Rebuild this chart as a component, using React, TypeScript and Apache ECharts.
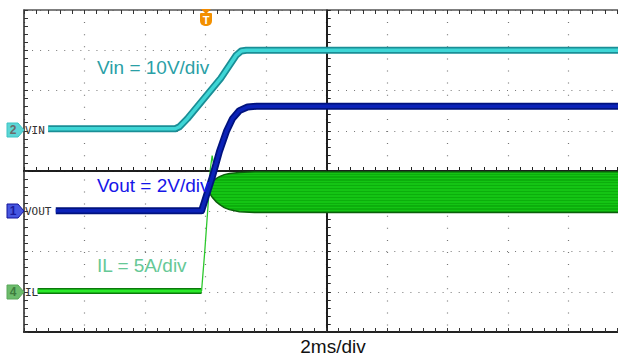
import React, { useEffect, useRef } from "react";
import * as echarts from "echarts";

// Time axis in ms (2 ms/div, trigger at -4 ms); vertical values in screen divisions (centre = 0)
const xTicks = { min: -10, max: 10, interval: 2 };
const yTicks = { min: -4, max: 4, interval: 1 };

// Channel 2: VIN (10 V/div)
const vinT = [-9.2, -5.0, -4.86, -4.6, -3.5, -2.98, -2.82, -2.65, 10];
const vinV = [1.05, 1.05, 1.1, 1.3, 2.3, 2.88, 2.98, 3.0, 3.0];

// Channel 1: VOUT (2 V/div)
const voutT = [-8.95, -4.13, -3.97, -3.77, -3.54, -3.31, -3.11, -2.88, -2.61, -2.31, 10];
const voutV = [-0.99, -0.99, -0.61, -0.14, 0.48, 0.98, 1.3, 1.5, 1.59, 1.61, 1.61];

// Channel 4: IL (5 A/div) — flat part and the fast edge
const ilFlatT = [-9.55, -4.13];
const ilFlatV = [-2.98, -2.98];
const ilEdgeT = [-4.13, -4.03, -3.92, -3.84, -3.78, -3.74];
const ilEdgeV = [-2.98, -2.05, -0.9, 0.05, 0.38, 0.2];

// IL switching ripple envelope (lower / upper)
const bandT = [-3.9, -3.84, -3.77, -3.65, -3.54, -3.38, -3.21, -2.88, -2.38, 10];
const bandLo = [-0.5, -0.58, -0.66, -0.76, -0.83, -0.91, -0.96, -1.01, -1.03, -1.03];
const bandHi = [-0.36, -0.3, -0.25, -0.19, -0.14, -0.09, -0.06, -0.04, -0.02, -0.02];

const zip = (a: number[], b: number[]) => a.map((v, i) => [v, b[i]]);

const FONT = "'Liberation Sans', Arial, sans-serif";
const MONO = "'DejaVu Sans Mono', monospace";

function badge(y: number, label: string, fill: string, stroke: string, textColor: string) {
  return {
    type: "group",
    children: [
      {
        type: "polygon",
        shape: { points: [[7, y - 7], [18, y - 7], [24, y], [18, y + 7], [7, y + 7]] },
        style: { fill, stroke, lineWidth: 1 },
        z: 10,
      },
      {
        type: "text",
        x: 13,
        y,
        style: { text: label, fill: textColor, font: `bold 12px ${FONT}`, align: "center", verticalAlign: "middle" },
        z: 11,
      },
    ],
  };
}

export default function App() {
  const ref = useRef<HTMLDivElement>(null);
  useEffect(() => {
    if (!ref.current) return;
    const chart = echarts.init(ref.current, undefined, { renderer: "svg" });

    const stops: { offset: number; color: string }[] = [];
    const n = 14;
    for (let k = 0; k < n; k++) {
      stops.push({ offset: k / n, color: "#14c414" });
      stops.push({ offset: (k + 0.6) / n, color: "#14c414" });
      stops.push({ offset: (k + 0.6) / n, color: "#0cae0c" });
      stops.push({ offset: (k + 1) / n, color: "#0cae0c" });
    }
    const bandFill = new echarts.graphic.LinearGradient(0, 0, 0, 1, stops);

    const dotted = (dash: number[]) => ({ show: true, lineStyle: { color: "#777", width: 1.2, type: dash } });

    const baseX = { type: "value", min: xTicks.min, max: xTicks.max, interval: xTicks.interval, axisLabel: { show: false } };
    const baseY = { type: "value", min: yTicks.min, max: yTicks.max, interval: yTicks.interval, axisLabel: { show: false } };
    const tick = (inside: boolean, color: string) => ({
      axisTick: { show: true, inside, length: 4, lineStyle: { color, width: 1 } },
      minorTick: { show: true, splitNumber: 5, length: 4, lineStyle: { color, width: 1 } },
    });

    const option: any = {
      animation: false,
      grid: { left: 24, top: 10, width: 605, height: 322, containLabel: false, outerBoundsMode: "none" },
      xAxis: [
        { ...baseX, axisLine: { show: true, onZero: true, lineStyle: { color: "#111", width: 1.5 } }, ...tick(true, "#222"), splitLine: dotted([1, 11.1]) },
        { ...baseX, axisLine: { show: true, onZero: true, lineStyle: { color: "#111", width: 1.5 } }, ...tick(false, "#222"), splitLine: { show: false } },
        { ...baseX, position: "top", axisLine: { show: true, onZero: false, lineStyle: { color: "#555", width: 1.5 } }, ...tick(true, "#333"), splitLine: { show: false } },
        { ...baseX, position: "bottom", axisLine: { show: true, onZero: false, lineStyle: { color: "#222", width: 2 } }, ...tick(true, "#333"), splitLine: { show: false } },
      ],
      yAxis: [
        { ...baseY, axisLine: { show: true, onZero: true, lineStyle: { color: "#111", width: 1.5 } }, ...tick(true, "#222"), splitLine: dotted([1, 7.05]) },
        { ...baseY, axisLine: { show: true, onZero: true, lineStyle: { color: "#111", width: 1.5 } }, ...tick(false, "#222"), splitLine: { show: false } },
        { ...baseY, position: "left", axisLine: { show: true, onZero: false, lineStyle: { color: "#222", width: 1.5 } }, ...tick(true, "#333"), splitLine: { show: false } },
        { ...baseY, position: "right", axisLine: { show: true, onZero: false, lineStyle: { color: "#222", width: 1.5 } }, ...tick(true, "#333"), splitLine: { show: false } },
      ],
      series: [
        {
          type: "custom",
          name: "IL ripple",
          data: bandT.map((t, i) => [t, bandLo[i], bandHi[i]]),
          encode: { x: 0, y: [1, 2] },
          z: 3,
          renderItem: (params: any, api: any) => {
            if (params.dataIndex !== 0) return null;
            const top = bandT.map((t, i) => api.coord([t, bandHi[i]]));
            const bot = bandT.map((t, i) => api.coord([t, bandLo[i]])).reverse();
            return {
              type: "polygon",
              shape: { points: top.concat(bot) },
              style: { fill: bandFill, stroke: "#0b5e0b", lineWidth: 1.5 },
            };
          },
        },
        { type: "line", name: "IL", data: zip(ilFlatT, ilFlatV), showSymbol: false, z: 4, lineStyle: { width: 6, color: "#0b7a0b" } },
        { type: "line", name: "IL", data: zip(ilFlatT, ilFlatV), showSymbol: false, z: 4, lineStyle: { width: 3, color: "#2aea2a" } },
        { type: "line", name: "IL edge", data: zip(ilEdgeT, ilEdgeV), showSymbol: false, z: 4, lineStyle: { width: 1.3, color: "#2cc82c" } },
        { type: "line", name: "VOUT", data: zip(voutT, voutV), showSymbol: false, z: 5, lineStyle: { width: 7, color: "#00127e", join: "round" } },
        { type: "line", name: "VOUT", data: zip(voutT, voutV), showSymbol: false, z: 5, lineStyle: { width: 3.5, color: "#0b22b8", join: "round" } },
        { type: "line", name: "VIN", data: zip(vinT, vinV), showSymbol: false, z: 6, lineStyle: { width: 7, color: "#1a8e96", join: "round" } },
        { type: "line", name: "VIN", data: zip(vinT, vinV), showSymbol: false, z: 6, lineStyle: { width: 3.5, color: "#3ed6d6", join: "round" } },
      ],
      graphic: [
        { type: "text", x: 97, y: 67, style: { text: "Vin = 10V/div", fill: "#2a9fa6", font: `19px ${FONT}`, verticalAlign: "middle" }, z: 20 },
        { type: "text", x: 97, y: 185, style: { text: "Vout = 2V/div", fill: "#1616e8", font: `19px ${FONT}`, verticalAlign: "middle" }, z: 20 },
        { type: "text", x: 97, y: 265, style: { text: "IL = 5A/div", fill: "#66c896", font: `19px ${FONT}`, verticalAlign: "middle" }, z: 20 },
        { type: "text", x: 333, y: 346, style: { text: "2ms/div", fill: "#111", font: `19px ${FONT}`, align: "center", verticalAlign: "middle" }, z: 20 },
        { type: "text", x: 25, y: 130, style: { text: "VIN", fill: "#333", font: `11px ${MONO}`, verticalAlign: "middle" }, z: 20 },
        { type: "text", x: 25, y: 211, style: { text: "VOUT", fill: "#333", font: `11px ${MONO}`, verticalAlign: "middle" }, z: 20 },
        { type: "text", x: 25, y: 292, style: { text: "IL", fill: "#333", font: `11px ${MONO}`, verticalAlign: "middle" }, z: 20 },
        badge(130, "2", "#5cd6d6", "#3cc4c4", "#6a6a6a"),
        badge(211, "1", "#4656e0", "#14149a", "#1a1a9a"),
        badge(292, "4", "#6cbc6c", "#5aa85a", "#3d7a3d"),
        {
          type: "polygon",
          shape: { points: [[201, 9], [211, 9], [206, 14]] },
          style: { fill: "#f08a00" },
          z: 20,
        },
        {
          type: "rect",
          shape: { x: 200, y: 13, width: 12, height: 13, r: [1, 1, 5, 5] },
          style: { fill: "#f39000" },
          z: 20,
        },
        { type: "text", x: 206, y: 20, style: { text: "T", fill: "#fff", font: `bold 11px ${FONT}`, align: "center", verticalAlign: "middle" }, z: 21 },
      ],
    };
    chart.setOption(option);
    return () => chart.dispose();
  }, []);

  return (
    <div style={{ position: "fixed", left: 0, top: 0, width: 618, height: 356, overflow: "hidden", background: "#fff" }}>
      <div ref={ref} style={{ width: 640, height: 356 }} />
    </div>
  );
}
